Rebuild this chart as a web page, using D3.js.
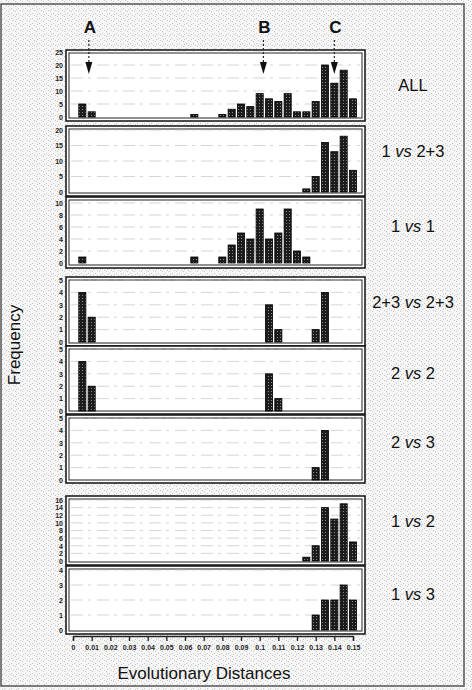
<!DOCTYPE html>
<html><head><meta charset="utf-8">
<script src="https://cdn.jsdelivr.net/npm/d3@7"></script>
<style>html,body{margin:0;padding:0;background:#fff}svg{display:block}</style>
</head><body><div id="chart"></div>
<script>
// ---- data ----
const bins = [0.005,0.01,0.015,0.02,0.025,0.03,0.035,0.04,0.045,0.05,0.055,0.06,0.065,0.07,0.075,0.08,0.085,0.09,0.095,0.1,0.105,0.11,0.115,0.12,0.125,0.13,0.135,0.14,0.145,0.15];
const panelNames = ["ALL","1 vs 2+3","1 vs 1","2+3 vs 2+3","2 vs 2","2 vs 3","1 vs 2","1 vs 3"];
const valuesAll      = [5,2,0,0,0,0,0,0,0,0,0,0,1,0,0,1,3,5,4,9,7,6,9,2,2,6,20,13,18,7];
const values1vs23    = [0,0,0,0,0,0,0,0,0,0,0,0,0,0,0,0,0,0,0,0,0,0,0,0,1,5,16,13,18,7];
const values1vs1     = [1,0,0,0,0,0,0,0,0,0,0,0,1,0,0,1,3,5,4,9,4,5,9,2,1,0,0,0,0,0];
const values23vs23   = [4,2,0,0,0,0,0,0,0,0,0,0,0,0,0,0,0,0,0,0,3,1,0,0,0,1,4,0,0,0];
const values2vs2     = [4,2,0,0,0,0,0,0,0,0,0,0,0,0,0,0,0,0,0,0,3,1,0,0,0,0,0,0,0,0];
const values2vs3     = [0,0,0,0,0,0,0,0,0,0,0,0,0,0,0,0,0,0,0,0,0,0,0,0,0,1,4,0,0,0];
const values1vs2     = [0,0,0,0,0,0,0,0,0,0,0,0,0,0,0,0,0,0,0,0,0,0,0,0,1,4,14,11,15,5];
const values1vs3     = [0,0,0,0,0,0,0,0,0,0,0,0,0,0,0,0,0,0,0,0,0,0,0,0,0,1,2,2,3,2];
const yMax   = [25,20,10,5,5,5,16,4];
const yStep  = [5,5,2,1,1,1,2,1];
const xTicks = [0,0.01,0.02,0.03,0.04,0.05,0.06,0.07,0.08,0.09,0.1,0.11,0.12,0.13,0.14,0.15];
const xTickLabels = ["0","0.01","0.02","0.03","0.04","0.05","0.06","0.07","0.08","0.09","0.1","0.11","0.12","0.13","0.14","0.15"];
const markerLabels = ["A","B","C"];
const markerPos = [0.0085,0.102,0.14];
const xTitle = "Evolutionary Distances";
const yTitle = "Frequency";

const series = [valuesAll,values1vs23,values1vs1,values23vs23,values2vs2,values2vs3,values1vs2,values1vs3];

// ---- layout ----
const W = 472, H = 690;
const boxes = [
  {t:50,b:121,y0:117,y1:52},
  {t:126,b:196,y0:192,y1:130},
  {t:197,b:268,y0:263,y1:203},
  {t:277,b:346,y0:342,y1:280},
  {t:346,b:414,y0:411,y1:349},
  {t:415,b:483,y0:480,y1:418},
  {t:496,b:565,y0:561,y1:500},
  {t:566,b:634,y0:630,y1:570}
];
const labelY = [91,157,232,308,379,448,527,600];
const boxL = 66, boxR = 365;

const svg = d3.select("#chart").append("svg").attr("width",W).attr("height",H)
  .style("font-family","'Liberation Sans', Arial, sans-serif");
const defs = svg.append("defs");
const bg = defs.append("pattern").attr("id","bgp").attr("width",7).attr("height",5).attr("patternUnits","userSpaceOnUse");
bg.append("rect").attr("width",7).attr("height",5).attr("fill","#f6f6f6");
[[1,1],[4,3],[6,0],[2,4]].forEach(([a,b])=>bg.append("rect").attr("x",a).attr("y",b).attr("width",1).attr("height",1).attr("fill","#c4c4c4"));
const bp = defs.append("pattern").attr("id","barp").attr("width",3).attr("height",3).attr("patternUnits","userSpaceOnUse");
bp.append("rect").attr("width",3).attr("height",3).attr("fill","#1c1c1c");
bp.append("rect").attr("x",1).attr("y",1).attr("width",1).attr("height",1).attr("fill","#8a8a8a");

svg.append("rect").attr("width",W).attr("height",H).attr("fill","url(#bgp)");
svg.append("rect").attr("x",1).attr("y",4).attr("width",463).attr("height",682)
  .attr("fill","none").attr("stroke","#555").attr("stroke-width",1.5);

const x = d3.scaleLinear().domain([0,0.15]).range([73,353]);
const bw = x(0.0038)-x(0);

series.forEach((vals,i)=>{
  const bx = boxes[i];
  const y = d3.scaleLinear().domain([0,yMax[i]]).range([bx.y0,bx.y1]);
  const g = svg.append("g");
  g.append("rect").attr("x",boxL).attr("y",bx.t).attr("width",boxR-boxL).attr("height",bx.b-bx.t)
    .attr("fill","#fff").attr("stroke","#111").attr("stroke-width",1.5);
  g.append("rect").attr("x",boxL+3).attr("y",bx.t+3).attr("width",boxR-boxL-6).attr("height",bx.b-bx.t-6)
    .attr("fill","#fff").attr("stroke","#222").attr("stroke-width",1);
  const ticks = d3.range(0,yMax[i]+0.001,yStep[i]);
  g.selectAll(".grid").data(ticks.filter(t=>t>0)).join("line")
    .attr("x1",boxL+5).attr("x2",boxR-5).attr("y1",d=>y(d)).attr("y2",d=>y(d))
    .attr("stroke","#bbb").attr("stroke-width",0.6).attr("stroke-dasharray","12,5,3,6");
  const ax = d3.axisLeft(y).tickValues(ticks).tickSize(0).tickPadding(0).tickFormat(d3.format("d"));
  const ag = g.append("g").attr("transform","translate(63,0)").call(ax);
  ag.select(".domain").remove();
  ag.selectAll("text").attr("font-size",7).attr("font-weight","bold").attr("fill","#222")
    .style("font-family","'Liberation Sans', Arial, sans-serif");
  g.selectAll(".bar").data(vals.map((v,k)=>({x:bins[k],v})).filter(d=>d.v>0)).join("rect")
    .attr("x",d=>x(d.x)-bw/2).attr("width",bw)
    .attr("y",d=>y(d.v)).attr("height",d=>y(0)-y(d.v))
    .attr("fill","url(#barp)").attr("stroke","#000").attr("stroke-width",0.8);
  const parts = panelNames[i].split(" vs ");
  const t = svg.append("text").attr("x",413).attr("y",labelY[i]).attr("text-anchor","middle")
    .attr("font-size",16.5).attr("fill","#111");
  if(parts.length===1){ t.text(parts[0]); }
  else {
    t.append("tspan").text(parts[0]+" ");
    t.append("tspan").attr("font-style","italic").text("vs");
    t.append("tspan").text(" "+parts[1]);
  }
});

// x axis
const xa = d3.axisBottom(x).tickValues(xTicks).tickSize(5).tickFormat((d,i)=>xTickLabels[i]);
const xg = svg.append("g").attr("transform","translate(0,636)").call(xa);
xg.select(".domain").attr("stroke","#222").attr("stroke-width",1.3);
xg.selectAll("line").attr("stroke","#222").attr("stroke-width",1.3);
xg.selectAll("text").attr("font-size",7).attr("font-weight","bold").attr("fill","#222").attr("dy","0.9em")
  .style("font-family","'Liberation Sans', Arial, sans-serif");

svg.append("text").attr("x",204).attr("y",679).attr("text-anchor","middle").attr("font-size",17).attr("fill","#111").text(xTitle);
svg.append("text").attr("transform","translate(20,345) rotate(-90)").attr("text-anchor","middle").attr("font-size",17).attr("fill","#111").text(yTitle);

// markers
markerLabels.forEach((m,i)=>{
  const px = x(markerPos[i]);
  svg.append("text").attr("x",px+1).attr("y",33).attr("text-anchor","middle").attr("font-size",17).attr("font-weight","bold").attr("fill","#111").text(m);
  svg.append("line").attr("x1",px).attr("x2",px).attr("y1",40).attr("y2",63).attr("stroke","#222").attr("stroke-width",1.2).attr("stroke-dasharray","2,2");
  svg.append("path").attr("d",`M${px-3.5},62 L${px+3.5},62 L${px},74 Z`).attr("fill","#111");
});
</script></body></html>
